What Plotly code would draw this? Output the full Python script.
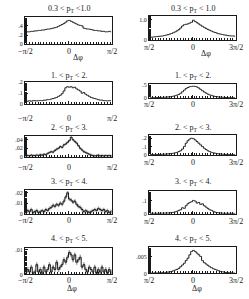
import numpy as np
import plotly.graph_objects as go

PI = np.pi
NB = 48

titles_left = ["0.3 < p<sub>T</sub> <1.0", "1. < p<sub>T</sub> < 2.", "2. < p<sub>T</sub> < 3.",
               "3. < p<sub>T</sub> < 4.", "4. < p<sub>T</sub> < 5."]
titles_right = ["0.3 < p<sub>T</sub> < 1.0", "1. < p<sub>T</sub> < 2.", "2. < p<sub>T</sub> < 3.",
                "3. < p<sub>T</sub> < 4.", "4. < p<sub>T</sub> < 5."]

xtick_left = ["\u2212\u03c0/2", "0", "\u03c0/2"]
xtick_right = ["\u03c0/2", "0", "3\u03c0/2"]

left_r1 = [0.26,0.27,0.27,0.28,0.28,0.29,0.29,0.30,0.30,0.31,0.31,0.32,0.33,0.33,0.34,0.35,0.36,0.37,0.39,0.41,0.43,0.45,0.48,0.51,
           0.52,0.50,0.48,0.46,0.44,0.42,0.41,0.40,0.35,0.34,0.33,0.33,0.32,0.31,0.30,0.30,0.29,0.29,0.28,0.28,0.27,0.27,0.28,0.27]
left_r2 = [0.02,0.025,0.03,0.025,0.03,0.03,0.028,0.03,0.032,0.03,0.035,0.035,0.04,0.04,0.045,0.05,0.055,0.06,0.07,0.08,0.095,0.12,0.15,0.16,
           0.155,0.16,0.15,0.155,0.14,0.13,0.12,0.10,0.105,0.09,0.08,0.07,0.06,0.055,0.05,0.045,0.04,0.035,0.035,0.03,0.03,0.028,0.03,0.03]
left_r3 = [0.002,0.003,0.002,0.004,0.003,0.003,0.004,0.003,0.005,0.004,0.006,0.005,0.008,0.01,0.012,0.011,0.015,0.018,0.02,0.024,0.022,0.028,0.03,0.034,
           0.038,0.046,0.040,0.036,0.032,0.026,0.02,0.016,0.012,0.01,0.008,0.006,0.004,0.003,0.002,0.003,0.004,0.002,0.003,0.002,0.003,0.002,0.003,0.002]
left_r4 = [0.001,0.003,0.002,0.004,0.001,0.002,0.003,0.001,0.002,0.003,0.002,0.004,0.003,0.005,0.006,0.008,0.007,0.009,0.008,0.010,0.009,0.012,0.016,0.020,
           0.014,0.013,0.011,0.012,0.009,0.007,0.006,0.004,0.002,0.003,0.002,0.001,0.002,0.003,0.004,0.003,0.005,0.004,0.003,0.004,0.002,0.003,0.001,0.002]
left_r5 = [0.0005,0.002,0.001,0.003,0.0005,0.001,0.004,0.001,0.002,0.0005,0.003,0.001,0.002,0.004,0.001,0.003,0.002,0.005,0.002,0.003,0.004,0.006,0.005,0.007,
           0.009,0.008,0.006,0.008,0.005,0.006,0.007,0.003,0.004,0.002,0.001,0.003,0.002,0.001,0.003,0.0005,0.002,0.001,0.003,0.001,0.002,0.0005,0.002,0.001]

right_r1 = [0.14,0.15,0.16,0.17,0.18,0.19,0.20,0.21,0.23,0.25,0.27,0.30,0.33,0.37,0.41,0.46,0.52,0.60,0.70,0.76,0.78,0.80,0.84,0.88,
            0.98,0.92,0.86,0.80,0.74,0.68,0.63,0.58,0.53,0.49,0.45,0.41,0.38,0.35,0.32,0.30,0.28,0.26,0.25,0.23,0.22,0.21,0.21,0.20]
right_r2 = [0.01,0.01,0.015,0.015,0.02,0.02,0.025,0.025,0.03,0.035,0.04,0.05,0.06,0.07,0.09,0.11,0.14,0.18,0.24,0.30,0.36,0.40,0.43,0.44,
            0.45,0.44,0.42,0.38,0.33,0.28,0.23,0.19,0.15,0.12,0.10,0.08,0.06,0.05,0.04,0.035,0.03,0.025,0.02,0.02,0.015,0.015,0.01,0.01]
right_r3 = [0.003,0.004,0.004,0.005,0.005,0.006,0.006,0.007,0.008,0.01,0.012,0.014,0.017,0.02,0.025,0.03,0.04,0.05,0.07,0.10,0.14,0.17,0.19,0.20,
            0.195,0.18,0.16,0.14,0.12,0.10,0.08,0.065,0.05,0.04,0.03,0.025,0.02,0.015,0.012,0.01,0.008,0.007,0.006,0.005,0.004,0.004,0.003,0.003]
right_r4 = [0.002,0.002,0.003,0.002,0.003,0.003,0.004,0.003,0.004,0.005,0.005,0.006,0.008,0.01,0.014,0.018,0.025,0.03,0.045,0.04,0.06,0.075,0.085,0.09,
            0.1,0.095,0.08,0.085,0.07,0.075,0.06,0.05,0.04,0.03,0.025,0.018,0.012,0.008,0.006,0.005,0.004,0.003,0.003,0.002,0.003,0.002,0.002,0.002]
right_r5 = [0.0001,0.0001,0.0001,0.0002,0.0001,0.0002,0.0002,0.0003,0.0002,0.0003,0.0004,0.0005,0.0006,0.0008,0.0010,0.0012,0.0015,0.002,0.0025,0.003,0.0038,0.0045,0.0055,0.0065,
            0.0068,0.0065,0.006,0.0055,0.005,0.0038,0.0032,0.0028,0.0024,0.002,0.0017,0.0014,0.0012,0.001,0.0008,0.0006,0.0005,0.0004,0.0003,0.0003,0.0002,0.0002,0.0001,0.0001]

left_err = [0, 0, 0.003, 0.0018, 0.0010]

left_yticks = [([0, 0.2, 0.4], ["0", ".2", ".4"]), ([0, 0.1, 0.2], ["0", ".1", ".2"]),
               ([0, 0.02, 0.04], ["0", ".02", ".04"]), ([0, 0.01, 0.02], ["0", ".01", ".02"]),
               ([0, 0.01], ["0", ".01"])]
right_yticks = [([0, 1.0], ["0", "1.0"]), ([0, 0.5], ["0", ".5"]), ([0, 0.1, 0.2], ["0", ".1", ".2"]),
                ([0, 0.1], ["0", ".1"]), ([0, 0.005], ["0", ".005"])]
left_yrange = [0.6, 0.2, 0.048, 0.0225, 0.0108]
right_yrange = [1.2, 0.52, 0.235, 0.17, 0.0078]

# pixel layout: (box top, box bottom, x-tick-label y, title y)
left_rows = [(14, 42, 49, 6), (81, 103, 118, 74), (136, 157, 168, 128), (191, 215, 222, 183), (250, 277, 283, 241)]
right_rows = [(13, 38, 45, 6), (83, 97, 104, 75), (135, 155, 163, 128), (192, 215, 223, 183), (249, 276, 283, 241)]
left_x = (25, 112)
right_x = (149, 236)
dphi_pos = [(78, 56), (72, 291), (206, 52), (197, 291)]

W, H = 249, 299
FONT = "Liberation Serif"
INK = "#1a1a1a"

fig = go.Figure()
layout = dict(width=W, height=H, margin=dict(l=0, r=0, t=0, b=0),
              paper_bgcolor="white", plot_bgcolor="white", showlegend=False,
              font=dict(family=FONT, color=INK, size=9))
annotations = []

left_data = [left_r1, left_r2, left_r3, left_r4, left_r5]
right_data = [right_r1, right_r2, right_r3, right_r4, right_r5]


def px_x(v):
    return v / W


def px_y(v):
    return 1 - v / H


idx = 0
for col in range(2):
    for row in range(5):
        idx += 1
        ax = "" if idx == 1 else str(idx)
        if col == 0:
            lo, hi = -PI / 2, PI / 2
            data = left_data[row]
            top, bot, ly, ty = left_rows[row]
            xs = left_x
            tv, tt = left_yticks[row]
            yr = left_yrange[row]
            xt = xtick_left
            title = titles_left[row]
        else:
            lo, hi = PI / 2, 3 * PI / 2
            data = right_data[row]
            top, bot, ly, ty = right_rows[row]
            xs = right_x
            tv, tt = right_yticks[row]
            yr = right_yrange[row]
            xt = xtick_right
            title = titles_right[row]
        edges = np.linspace(lo, hi, NB + 1)
        centers = 0.5 * (edges[:-1] + edges[1:])
        err = left_err[row] if col == 0 else 0
        if err > 0:
            fig.add_trace(go.Scatter(x=centers, y=data, mode="markers",
                                     marker=dict(size=1, color="#888"),
                                     error_y=dict(type="constant", value=err, color="#a0a0a0",
                                                  thickness=1.5, width=0),
                                     xaxis="x" + ax, yaxis="y" + ax, hoverinfo="skip"))
        fig.add_trace(go.Scatter(x=centers, y=data, mode="lines", line_shape="hvh",
                                 line=dict(color=INK, width=1),
                                 xaxis="x" + ax, yaxis="y" + ax))
        xtv = [lo, (lo + hi) / 2, hi]
        layout["xaxis" + ax] = dict(domain=[px_x(xs[0]), px_x(xs[1])], anchor="y" + ax,
                                    range=[lo, hi], tickvals=xtv, showticklabels=False,
                                    ticks="inside", ticklen=3, tickcolor=INK, showline=True, mirror=True,
                                    linecolor=INK, linewidth=1, showgrid=False, zeroline=False,
                                    minor=dict(ticks="inside", ticklen=2, tickcolor=INK, nticks=10, showgrid=False))
        layout["yaxis" + ax] = dict(domain=[px_y(bot), px_y(top)], anchor="x" + ax,
                                    range=[0, yr], tickvals=tv, ticktext=tt,
                                    ticks="inside", ticklen=3, tickcolor=INK, showline=True, mirror=True,
                                    linecolor=INK, linewidth=1, showgrid=False, zeroline=False,
                                    tickfont=dict(family=FONT, size=6, color=INK),
                                    minor=dict(ticks="inside", ticklen=2, tickcolor=INK, nticks=8, showgrid=False))
        for v, t in zip(xtv, xt):
            annotations.append(dict(text=t, x=v, xref="x" + ax, y=px_y(ly), yref="paper",
                                    xanchor="center", yanchor="middle", showarrow=False,
                                    font=dict(family=FONT, size=8, color=INK)))
        annotations.append(dict(text=title, x=px_x((xs[0] + xs[1]) / 2), y=px_y(ty),
                                xref="paper", yref="paper", xanchor="center", yanchor="middle",
                                showarrow=False, font=dict(family=FONT, size=8, color=INK)))

for (x, y) in dphi_pos:
    annotations.append(dict(text="\u0394\u03c6", x=px_x(x), y=px_y(y), xref="paper", yref="paper",
                            xanchor="center", yanchor="middle",
                            showarrow=False, font=dict(family=FONT, size=8, color=INK)))

layout["annotations"] = annotations
fig.update_layout(**layout)
fig.write_html("out.html", config={"displayModeBar": False, "staticPlot": True},
               post_script="document.body.style.margin='0';document.body.style.overflow='hidden';")
